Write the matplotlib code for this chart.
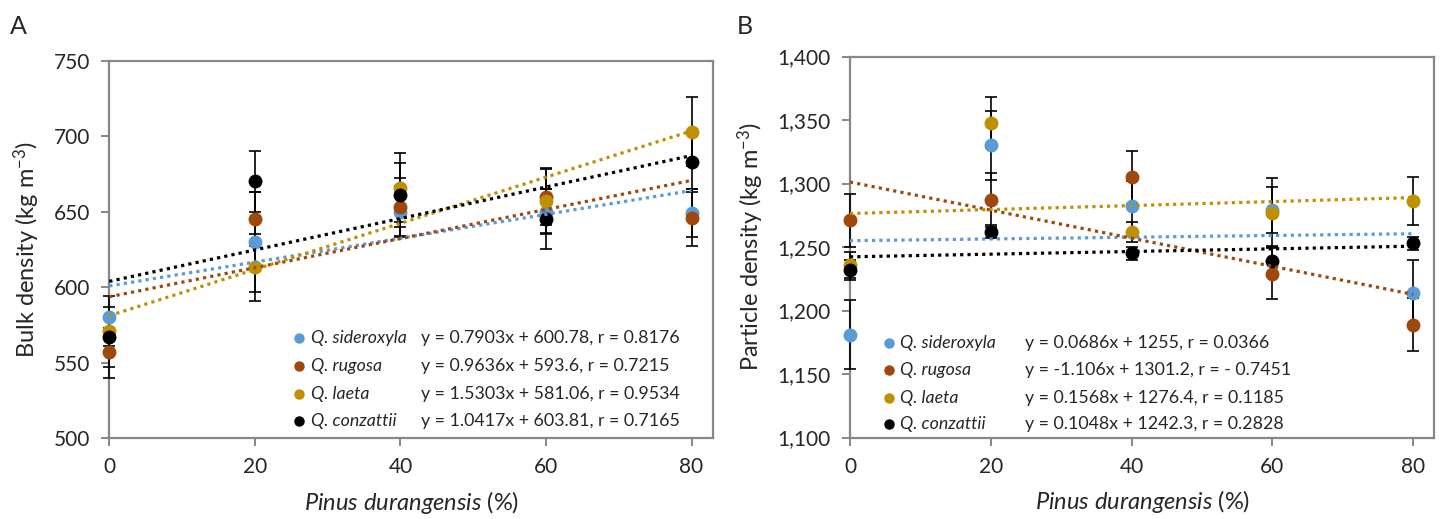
import numpy as np
import matplotlib
matplotlib.use('Agg')
from matplotlib import pyplot as plt
from matplotlib.ticker import FuncFormatter

plt.rcParams['font.family'] = ['Lato', 'DejaVu Sans']
plt.rcParams['mathtext.fontset'] = 'custom'
plt.rcParams['mathtext.rm'] = 'Lato'
plt.rcParams['mathtext.it'] = 'Lato:italic'

# datos
pinus = [0, 20, 40, 60, 80]
species = ['Q. sideroxyla', 'Q. rugosa', 'Q. laeta', 'Q. conzattii']
colors = ['#5B9BD5', '#9E480E', '#BF9000', '#000000']

# A - bulk density
bulk = [
    [580, 630, 650, 650, 649],
    [557, 645, 653, 660, 646],
    [571, 613, 666, 657, 703],
    [567, 670, 661, 645, 683],
]
bulk_err = [
    [7, 33, 17, 15, 16],
    [10, 18, 19, 19, 19],
    [10, 22, 23, 21, 23],
    [27, 20, 21, 20, 20],
]
bulk_slope = [0.7903, 0.9636, 1.5303, 1.0417]
bulk_icpt = [600.78, 593.6, 581.06, 603.81]
bulk_eq = ['y = 0.7903x + 600.78, r = 0.8176',
           'y = 0.9636x + 593.6, r = 0.7215',
           'y = 1.5303x + 581.06, r = 0.9534',
           'y = 1.0417x + 603.81, r = 0.7165']

# B - particle density
part = [
    [1181, 1330, 1282, 1279, 1214],
    [1271, 1287, 1305, 1229, 1189],
    [1236, 1348, 1262, 1277, 1286],
    [1232, 1262, 1245, 1239, 1253],
]
part_err = [
    [27, 27, 20, 18, 26],
    [21, 21, 21, 20, 21],
    [10, 20, 8, 27, 19],
    [8, 5, 5, 12, 5],
]
part_slope = [0.0686, -1.106, 0.1568, 0.1048]
part_icpt = [1255, 1301.2, 1276.4, 1242.3]
part_eq = ['y = 0.0686x + 1255, r = 0.0366',
           'y = -1.106x + 1301.2, r = - 0.7451',
           'y = 0.1568x + 1276.4, r = 0.1185',
           'y = 0.1048x + 1242.3, r = 0.2828']

fig = plt.figure(figsize=(14.44, 5.19), dpi=100)
axA = fig.add_axes([0.0757, 0.156, 0.4183, 0.727])
axB = fig.add_axes([0.5886, 0.157, 0.4047, 0.734])


def panel(ax, data, err, slope, icpt, eqs, ylim, step, ylabel, leg_x, leg_y, eq_x, fmt=None):
    xs = np.array([0, 80])
    for i in range(4):
        eb = ax.errorbar(pinus, data[i], yerr=err[i], fmt='none', ecolor='black',
                         elinewidth=1.2, capsize=4.5, capthick=1.2, zorder=2)
        for art in eb.get_children():
            art.set_clip_on(False)
    for i in range(4):
        ax.plot(pinus, data[i], 'o', color=colors[i], markersize=9, zorder=3, clip_on=False)
    for i in range(4):
        ax.plot(xs, slope[i] * xs + icpt[i], color=colors[i], lw=2.3,
                linestyle=(0, (1, 1.3)), zorder=4)
    ax.set_xlim(0, 83)
    ax.set_ylim(*ylim)
    ax.set_xticks(pinus)
    ax.set_yticks(np.arange(ylim[0], ylim[1] + 1, step))
    if fmt:
        ax.yaxis.set_major_formatter(FuncFormatter(fmt))
    for s in ax.spines.values():
        s.set_color('#878787')
        s.set_linewidth(1.6)
        s.set_zorder(1)
    ax.tick_params(direction='out', length=6, width=1.4, color='#878787',
                   labelsize=15, labelcolor='#262626', pad=8)
    ax.set_xlabel(r'$\it{Pinus\ durangensis}$ (%)', fontsize=17, color='#262626', labelpad=8)
    ax.set_ylabel(ylabel, fontsize=17, color='#262626', labelpad=8)
    # leyenda con ecuaciones
    for i in range(4):
        ty = leg_y[i]
        ax.plot([leg_x - 1.6], [ty], 'o', color=colors[i], markersize=6.5, clip_on=False)
        ax.text(leg_x, ty, species[i], style='italic', fontsize=12.8, va='center',
                color='#262626')
        ax.text(eq_x, ty, eqs[i], fontsize=12.8, va='center', color='#262626')


panel(axA, bulk, bulk_err, bulk_slope, bulk_icpt, bulk_eq, (500, 750), 50,
      'Bulk density (kg m$^{-3}$)', 27.7, [566, 547.5, 529.5, 511], 42.8)
panel(axB, part, part_err, part_slope, part_icpt, part_eq, (1100, 1400), 50,
      'Particle density (kg m$^{-3}$)', 7.1, [1174.5, 1153.5, 1131.5, 1111], 24.9,
      fmt=lambda v, p: '{:,.0f}'.format(v))

fig.text(0.007, 0.935, 'A', fontsize=18, color='#262626')
fig.text(0.510, 0.935, 'B', fontsize=18, color='#262626')

fig.savefig('out.png', dpi=100)
